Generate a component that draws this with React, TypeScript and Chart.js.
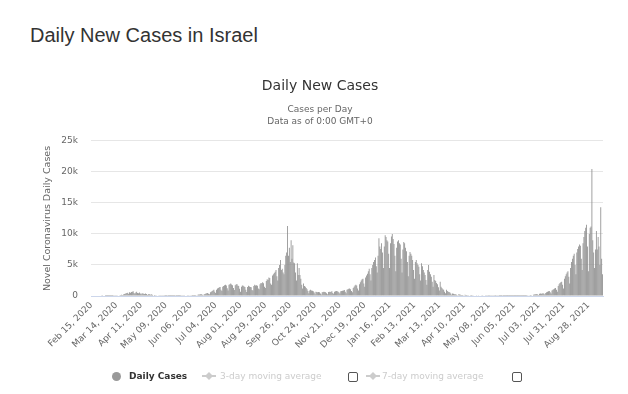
import React, { useEffect, useRef } from 'react';
import { Chart, registerables } from 'chart.js';

Chart.register(...registerables);

const FONT = '"DejaVu Sans", Verdana, sans-serif';

// First day of the series; one category per day
const startDay = { year: 2020, month: 1, day: 15 }; // Feb 15, 2020
const MONTHS = ['Jan', 'Feb', 'Mar', 'Apr', 'May', 'Jun', 'Jul', 'Aug', 'Sep', 'Oct', 'Nov', 'Dec'];

// Labelled ticks, one every 28 days
const tickLabels = [
  'Feb 15, 2020', 'Mar 14, 2020', 'Apr 11, 2020', 'May 09, 2020', 'Jun 06, 2020', 'Jul 04, 2020',
  'Aug 01, 2020', 'Aug 29, 2020', 'Sep 26, 2020', 'Oct 24, 2020', 'Nov 21, 2020', 'Dec 19, 2020',
  'Jan 16, 2021', 'Feb 13, 2021', 'Mar 13, 2021', 'Apr 10, 2021', 'May 08, 2021', 'Jun 05, 2021',
  'Jul 03, 2021', 'Jul 31, 2021', 'Aug 28, 2021',
];
const TICK_EVERY = 28;

// Daily new cases, Feb 15 2020 – Jan 1 2021 (one row per week, Sat..Fri)
const casesFeb20ToJan21 = [
  0, 0, 0, 0, 0, 0, 0,
  0, 0, 0, 0, 0, 1, 0,
  0, 0, 1, 3, 2, 4, 3,
  4, 5, 14, 16, 22, 35, 25,
  30, 50, 70, 100, 130, 170, 200,
  150, 230, 330, 380, 430, 480, 540,
  330, 620, 520, 650, 700, 760, 500,
  380, 560, 680, 500, 460, 570, 400,
  280, 450, 420, 360, 310, 390, 330,
  180, 280, 330, 260, 200, 290, 160,
  100, 150, 140, 110, 90, 80, 60,
  40, 60, 55, 40, 30, 40, 20,
  15, 20, 25, 20, 15, 20, 10,
  8, 15, 20, 15, 25, 20, 15,
  10, 20, 18, 25, 35, 50, 60,
  40, 80, 100, 115, 120, 110, 75,
  60, 125, 145, 150, 165, 170, 120,
  90, 200, 230, 260, 300, 280, 190,
  140, 300, 340, 400, 440, 500, 380,
  280, 600, 700, 800, 900, 1000, 700,
  500, 1000, 1200, 1300, 1400, 1450, 1000,
  800, 1500, 1600, 1750, 1800, 1700, 1250,
  900, 1800, 1900, 2000, 1850, 1750, 1300,
  950, 1750, 1850, 1950, 1700, 1600, 1150,
  700, 1500, 1700, 1650, 1550, 1450, 1000,
  650, 1450, 1650, 1550, 1450, 1400, 950,
  900, 1600, 1800, 1700, 1750, 1650, 1200,
  1100, 1900, 2100, 2050, 2200, 2050, 1500,
  1300, 2400, 2700, 2600, 3000, 2900, 2000,
  1800, 3300, 3500, 3700, 3900, 4200, 3200,
  2500, 4500, 5000, 5800, 4200, 4400, 3800,
  3500, 5000, 6500, 7000, 11300, 6500, 7800,
  5500, 9000, 6000, 8200, 5400, 5300, 3800,
  2500, 5300, 3400, 4500, 3400, 2800, 1800,
  1200, 2000, 1600, 1500, 1300, 1100, 800,
  450, 900, 1000, 900, 850, 750, 550,
  300, 700, 650, 600, 650, 600, 400,
  250, 600, 650, 700, 650, 600, 450,
  300, 650, 700, 650, 700, 750, 500,
  350, 700, 750, 800, 750, 700, 550,
  400, 750, 800, 850, 900, 950, 700,
  450, 1000, 1100, 1150, 1200, 1100, 800,
  600, 1300, 1500, 1700, 1800, 1700, 1200,
  900, 1900, 2200, 2500, 2700, 2800, 2000,
  1500, 3000, 3300, 3600, 4000, 4400, 3500,
  2500, 4500, 5000, 5500, 5800, 6200, 4800,
];

// Daily new cases, Jan 2 2021 – Sep 13 2021
const casesJan21ToSep21 = [
  3800, 6500, 9300, 8000, 7600, 8500, 7000,
  4500, 8000, 9800, 9500, 9000, 8800, 6800,
  4500, 8500, 9600, 10000, 9200, 8400, 6500,
  4000, 7800, 8800, 9000, 8500, 8300, 6000,
  3800, 7500, 8700, 8500, 7800, 7200, 5500,
  3200, 6500, 7100, 6800, 6500, 5800, 4200,
  2800, 5500, 5800, 5300, 5000, 4700, 3500,
  2500, 5300, 4800, 4200, 3800, 3400, 2600,
  1800, 4200, 5000, 3900, 3500, 3100, 2300,
  1500, 3400, 2600, 2400, 2100, 1900, 1400,
  900, 2300, 1500, 1300, 1100, 1000, 700,
  450, 1000, 800, 700, 650, 550, 400,
  200, 400, 350, 300, 300, 250, 180,
  100, 300, 250, 200, 180, 160, 120,
  70, 200, 180, 160, 140, 120, 90,
  50, 150, 130, 110, 100, 90, 70,
  40, 100, 110, 90, 80, 70, 50,
  30, 80, 70, 60, 60, 50, 40,
  20, 50, 45, 40, 35, 30, 25,
  15, 40, 35, 30, 25, 20, 18,
  10, 25, 20, 18, 15, 12, 10,
  8, 20, 15, 12, 10, 12, 8,
  5, 15, 12, 10, 8, 10, 6,
  5, 10, 12, 8, 10, 15, 12,
  20, 60, 110, 100, 120, 150, 130,
  80, 200, 250, 300, 280, 320, 250,
  150, 350, 400, 380, 420, 450, 350,
  250, 500, 600, 700, 750, 800, 600,
  400, 900, 1000, 1100, 1200, 1300, 1000,
  700, 1600, 1900, 2100, 2200, 2300, 1800,
  1200, 2800, 3200, 3500, 3800, 4000, 3100,
  2000, 4500, 5500, 6000, 6500, 6800, 5000,
  3500, 7000, 7600, 8000, 8300, 8100, 6000,
  4200, 8500, 9500, 10500, 11000, 11500, 8000,
  4000, 10000, 11000, 11200, 20500, 9000, 7000,
  4500, 7500, 10500, 7500, 9500, 8000, 5000,
  14300, 6000, 3500,
];

const dailyCases = [...casesFeb20ToJan21, ...casesJan21ToSep21];

const yTicks = [0, 5000, 10000, 15000, 20000, 25000];

const legendSeries = [
  { label: 'Daily Cases', visible: true, left: 112, textLeft: 129 },
  { label: '3-day moving average', visible: false, left: 202, textLeft: 220, box: 348 },
  { label: '7-day moving average', visible: false, left: 366, textLeft: 382, box: 512 },
];

function dayLabel(i: number): string {
  const d = new Date(Date.UTC(startDay.year, startDay.month, startDay.day + i));
  const dd = String(d.getUTCDate()).padStart(2, '0');
  return `${MONTHS[d.getUTCMonth()]} ${dd}, ${d.getUTCFullYear()}`;
}

const categories = dailyCases.map((_, i) => dayLabel(i));

export default function App() {
  const ref = useRef<HTMLCanvasElement>(null);

  useEffect(() => {
    const canvas = ref.current;
    if (!canvas) return;
    const chart = new Chart(canvas, {
      type: 'bar',
      data: {
        labels: categories,
        datasets: [
          {
            label: 'Daily Cases',
            data: dailyCases,
            backgroundColor: '#8a8a8a',
            borderWidth: 0,
            barPercentage: 0.9,
            categoryPercentage: 1,
          },
        ],
      },
      options: {
        animation: false,
        responsive: false,
        maintainAspectRatio: false,
        layout: { padding: { left: 37, right: 25, top: 0, bottom: 0 } },
        plugins: {
          legend: { display: false },
          tooltip: { enabled: false },
          title: {
            display: true,
            text: 'Daily New Cases',
            color: '#333333',
            font: { family: FONT, size: 14, weight: 'normal', lineHeight: 1.2 },
            padding: { top: 77.6, bottom: 0 },
          },
          subtitle: {
            display: true,
            text: ['Cases per Day', 'Data as of 0:00 GMT+0'],
            color: '#666666',
            font: { family: FONT, size: 9, weight: 'normal', lineHeight: 1.333 },
            padding: { top: 9.6, bottom: 13 },
          },
        },
        scales: {
          x: {
            grid: { display: false, drawTicks: false },
            border: { color: '#ccd6eb' },
            ticks: {
              autoSkip: false,
              maxRotation: 45,
              minRotation: 45,
              color: '#666666',
              font: { family: FONT, size: 9 },
              padding: 4,
              callback: (_v: any, i: number) => (i % TICK_EVERY === 0 ? tickLabels[i / TICK_EVERY] : null),
            },
            afterFit: (s: any) => {
              s.height = 98;
            },
          },
          y: {
            min: 0,
            max: 25000,
            afterBuildTicks: (s: any) => {
              s.ticks = yTicks.map((v) => ({ value: v }));
            },
            ticks: {
              color: '#666666',
              font: { family: FONT, size: 9 },
              padding: 13,
              callback: (v: any) => (Number(v) === 0 ? '0' : Number(v) / 1000 + 'k'),
            },
            grid: { color: '#e6e6e6', drawTicks: false },
            border: { display: false },
            title: {
              display: true,
              text: 'Novel Coronavirus Daily Cases',
              color: '#666666',
              font: { family: FONT, size: 9.5 },
              padding: { top: 5, bottom: 0 },
            },
            afterFit: (s: any) => {
              s.width = 54;
            },
          },
        },
      } as any,
    });
    return () => chart.destroy();
  }, []);

  return (
    <div style={{ position: 'fixed', left: 0, top: 0, width: 628, height: 394, background: '#fff', overflow: 'hidden' }}>
      <div
        style={{
          position: 'absolute',
          left: 30,
          top: 25,
          fontFamily: '"Liberation Sans", Arial, sans-serif',
          fontSize: 20,
          lineHeight: '20px',
          color: '#333333',
          whiteSpace: 'nowrap',
        }}
      >
        Daily New Cases in Israel
      </div>
      <canvas ref={ref} width={628} height={394} style={{ position: 'absolute', left: 0, top: 0, display: 'block' }} />
      {legendSeries.map((s, k) => (
        <React.Fragment key={k}>
          {s.visible ? (
            <span
              style={{
                position: 'absolute',
                left: s.left,
                top: 371.5,
                width: 9,
                height: 9,
                borderRadius: '50%',
                background: '#999999',
              }}
            />
          ) : (
            <svg style={{ position: 'absolute', left: s.left, top: 371 }} width={14} height={10}>
              <line x1={0} y1={5} x2={14} y2={5} stroke="#cccccc" strokeWidth={2} />
              <path d="M7 1 L11 5 L7 9 L3 5 Z" fill="#cccccc" />
            </svg>
          )}
          <span
            style={{
              position: 'absolute',
              left: s.textLeft,
              top: 370,
              fontFamily: FONT,
              fontSize: 9,
              lineHeight: '12px',
              fontWeight: s.visible ? 'bold' : 'normal',
              color: s.visible ? '#333333' : '#cccccc',
              whiteSpace: 'nowrap',
            }}
          >
            {s.label}
          </span>
          {s.box !== undefined && (
            <span
              style={{
                position: 'absolute',
                left: s.box,
                top: 372,
                width: 8,
                height: 8,
                border: '1px solid #555555',
                borderRadius: 2,
                background: '#ffffff',
              }}
            />
          )}
        </React.Fragment>
      ))}
    </div>
  );
}
